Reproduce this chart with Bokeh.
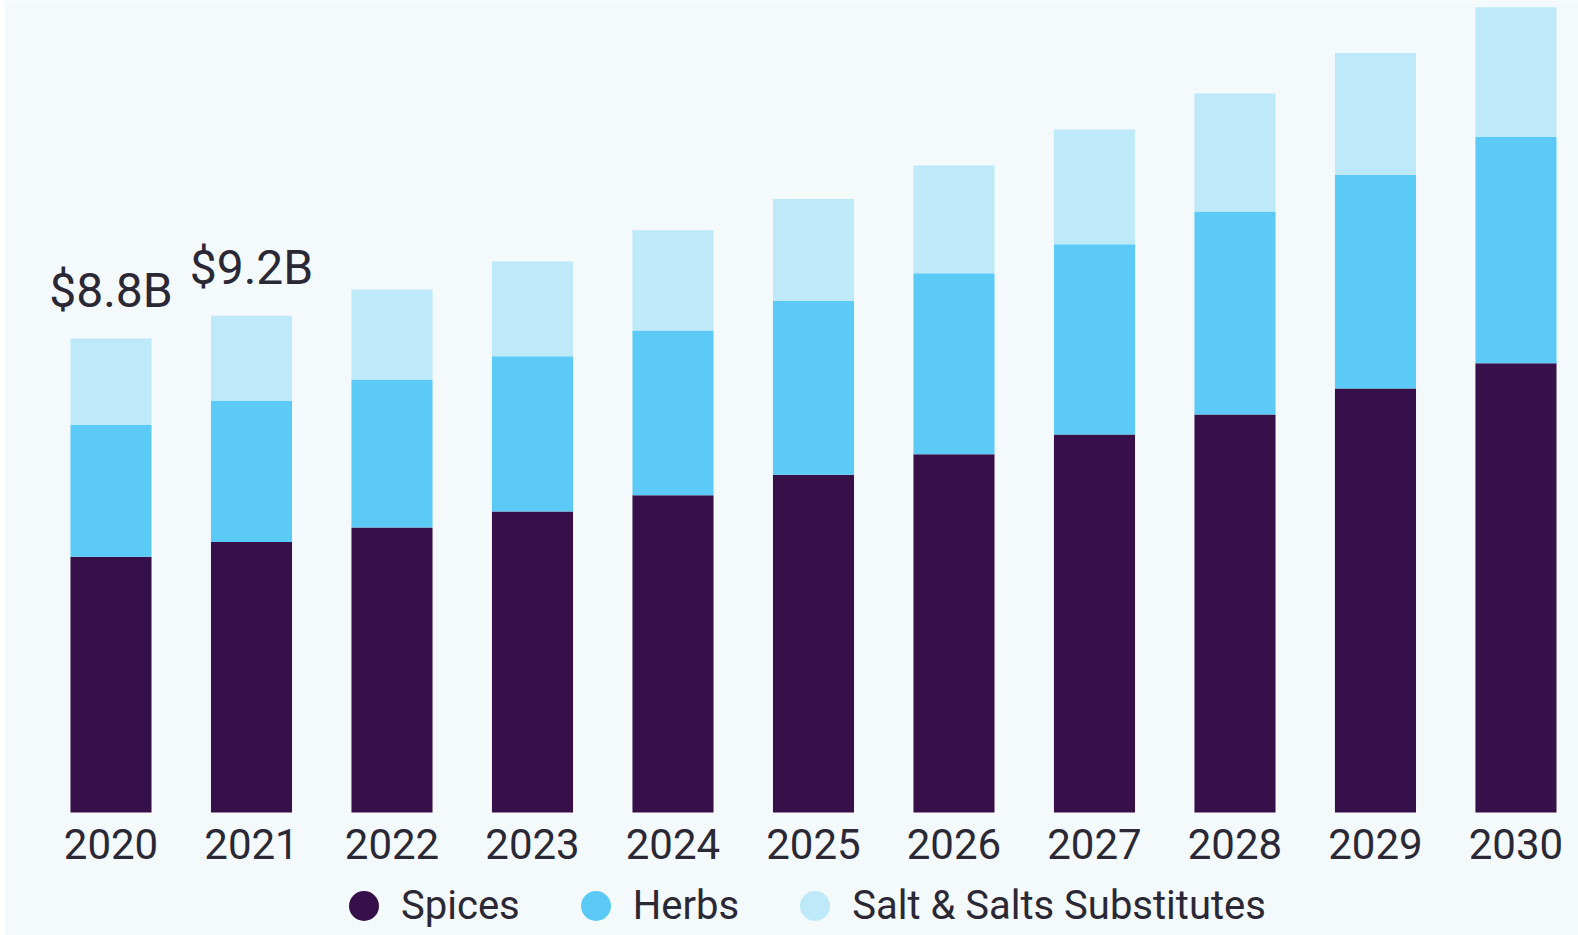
from bokeh.plotting import figure
from bokeh.models import ColumnDataSource, Range1d, FixedTicker, PrintfTickFormatter, Legend, LegendItem
from bokeh.core.properties import value
from bokeh.embed import file_html
from bokeh.resources import INLINE

years = [2020, 2021, 2022, 2023, 2024, 2025, 2026, 2027, 2028, 2029, 2030]
spices = [4.75, 5.02, 5.29, 5.59, 5.89, 6.27, 6.65, 7.02, 7.39, 7.87, 8.34]
herbs = [2.45, 2.62, 2.75, 2.88, 3.06, 3.23, 3.36, 3.53, 3.77, 3.97, 4.20]
salt = [1.60, 1.58, 1.67, 1.76, 1.86, 1.89, 2.00, 2.13, 2.19, 2.26, 2.41]
series = ["Spices", "Herbs", "Salt & Salts Substitutes"]
annot_years = [2020, 2021]
annot_text = ["$8.8B", "$9.2B"]

colors = ["#37104A", "#5CCAF6", "#BDE9F9"]
BG = "#F4F9FC"
TXT = "#2B2835"
FONT = "Roboto"

src = ColumnDataSource(dict(year=years, spices=spices, herbs=herbs, salt=salt))

p = figure(frame_width=1574, frame_height=935, output_backend="svg", toolbar_location=None,
           x_range=Range1d(2019.242, 2030.445), y_range=Range1d(-2.2835, 15.075),
           min_border=0, min_border_left=4, background_fill_color=BG,
           border_fill_color="white", outline_line_color=None)

rs = p.vbar_stack(["spices", "herbs", "salt"], x="year", width=0.577, source=src,
                  color=colors, line_color=None)

# annotations
tot = {y: s + h + t for y, s, h, t in zip(years, spices, herbs, salt)}
asrc = ColumnDataSource(dict(x=annot_years, y=[tot[y] for y in annot_years], t=annot_text))
p.text(x="x", y="y", text="t", source=asrc, text_align="center", text_baseline="alphabetic",
       y_offset=-48, text_font=value(FONT), text_font_size="48px", text_color=TXT)

p.xgrid.visible = False
p.ygrid.visible = False
p.yaxis.visible = False
ax = p.xaxis[0]
ax.fixed_location = 0
ax.ticker = FixedTicker(ticks=years)
ax.formatter = PrintfTickFormatter(format="%d")
ax.axis_line_color = None
ax.major_tick_line_color = None
ax.minor_tick_line_color = None
ax.major_tick_out = 0
ax.major_tick_in = 0
ax.minor_tick_out = 0
ax.minor_tick_in = 0
ax.major_label_standoff = 16
ax.major_label_text_font = FONT
ax.major_label_text_font_size = "42px"
ax.major_label_text_color = TXT

# legend swatches (one off-screen point each so the legend draws the circle)
dots = []
for c in colors:
    dots.append(p.scatter(x=[1990], y=[0], marker="circle", size=30, fill_color=c, line_color=None))

legend = Legend(items=[LegendItem(label=s, renderers=[d]) for s, d in zip(series, dots)],
                orientation="horizontal", location=(322, -8), background_fill_alpha=0,
                border_line_color=None, label_text_font=FONT, label_text_font_size="40px",
                label_text_color=TXT, glyph_width=75, glyph_height=75, label_standoff=-7,
                label_height=40, spacing=38, padding=0, margin=0)
p.add_layout(legend)

open("out.html", "w").write(file_html(p, INLINE))
